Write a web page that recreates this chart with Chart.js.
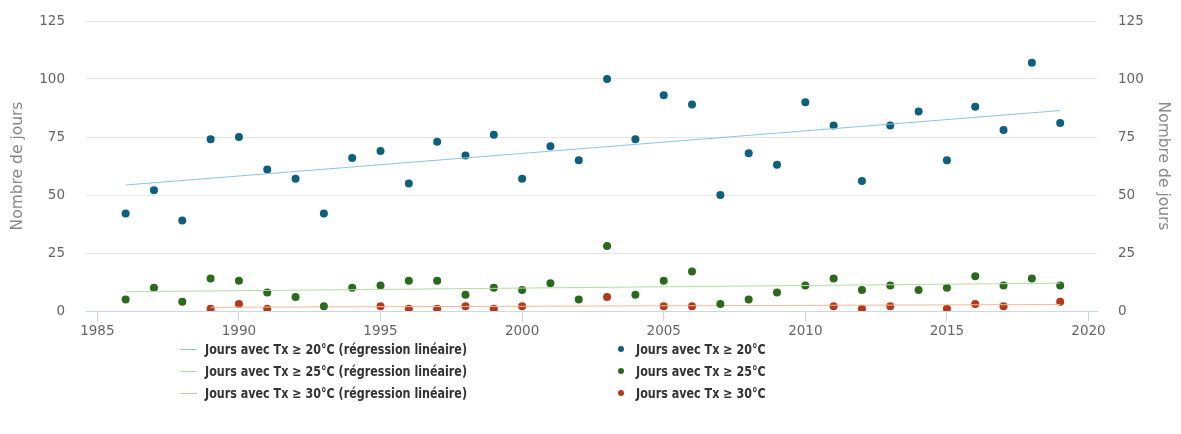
<!DOCTYPE html>
<html>
<head>
<meta charset="utf-8">
<script src="https://cdn.jsdelivr.net/npm/chart.js@4"></script>
<style>
  body { margin: 0; background: #fff; }
  #wrap { position: relative; width: 1181px; height: 434px; }
  #legend { position: absolute; left: 0; top: 339px; width: 1181px; font-family: "DejaVu Sans Condensed", "DejaVu Sans", sans-serif; font-weight: bold; font-size: 14px; color: #333; }
  .item { position: absolute; height: 20px; line-height: 20px; white-space: nowrap; }
  .txt { display: inline-block; transform: scaleX(0.885); transform-origin: 0 50%; }
  .sym { position: absolute; top: 10px; }
</style>
</head>
<body>
<div id="wrap">
  <canvas id="myChart" width="1181" height="434"></canvas>
  <div id="legend"></div>
</div>
<script>
const years = [1986, 1987, 1988, 1989, 1990, 1991, 1992, 1993, 1994, 1995,
    1996, 1997, 1998, 1999, 2000, 2001, 2002, 2003, 2004, 2005,
    2006, 2007, 2008, 2009, 2010, 2011, 2012, 2013, 2014, 2015,
    2016, 2017, 2018, 2019];
const tx20 = [42, 52, 39, 74, 75, 61, 57, 42, 66, 69,
    55, 73, 67, 76, 57, 71, 65, 100, 74, 93,
    89, 50, 68, 63, 90, 80, 56, 80, 86, 65,
    88, 78, 107, 81];
const tx25 = [5, 10, 4, 14, 13, 8, 6, 2, 10, 11,
    13, 13, 7, 10, 9, 12, 5, 28, 7, 13,
    17, 3, 5, 8, 11, 14, 9, 11, 9, 10,
    15, 11, 14, 11];
const tx30 = [null, null, null, 1, 3, 1, null, null, null, 2,
    1, 1, 2, 1, 2, null, null, 6, null, 2,
    2, null, null, null, null, 2, 1, 2, null, 1,
    3, 2, null, 4];
// regression lines: start / end
const trend20Years = [1986, 2019];
const trend20 = [54.3, 86.4];
const trend25Years = [1986, 2019];
const trend25 = [8.3, 12.0];
const trend30Years = [1989, 2019];
const trend30 = [1.6, 2.8];
const xTicks = [1985, 1990, 1995, 2000, 2005, 2010, 2015, 2020];
const yTicks = [0, 25, 50, 75, 100, 125];

const labels = [
    'Jours avec Tx ≥ 20°C (régression linéaire)',
    'Jours avec Tx ≥ 20°C',
    'Jours avec Tx ≥ 25°C (régression linéaire)',
    'Jours avec Tx ≥ 25°C',
    'Jours avec Tx ≥ 30°C (régression linéaire)',
    'Jours avec Tx ≥ 30°C'
];
const COLORS = {
    line20: '#8cc4e2', pt20: '#0d5f7c',
    line25: '#b3dca6', pt25: '#2b6a1d',
    line30: '#f5b896', pt30: '#b4391b'
};

const pts = (xs, ys) => xs.map((x, i) => ({ x: x, y: ys[i] })).filter(p => p.y !== null);

function lineSet(label, xs, ys, color) {
    return { label: label, data: pts(xs, ys), showLine: true, borderColor: color, backgroundColor: color,
        borderWidth: 1, pointRadius: 0, pointHoverRadius: 0 };
}
function dotSet(label, xs, ys, color) {
    return { label: label, data: pts(xs, ys), showLine: false, borderColor: color, backgroundColor: color,
        pointRadius: 4, pointBorderWidth: 0 };
}

const data = {
    datasets: [
        lineSet(labels[0], trend20Years, trend20, COLORS.line20),
        dotSet(labels[1], years, tx20, COLORS.pt20),
        lineSet(labels[2], trend25Years, trend25, COLORS.line25),
        dotSet(labels[3], years, tx25, COLORS.pt25),
        lineSet(labels[4], trend30Years, trend30, COLORS.line30),
        dotSet(labels[5], years, tx30, COLORS.pt30)
    ]
};

const tickFont = { family: '"DejaVu Sans", sans-serif', size: 13.5 };
const titleFont = { family: '"DejaVu Sans", sans-serif', size: 15.5 };

function yAxis(position, w) {
    return {
        type: 'linear', position: position, min: 0, max: 125,
        afterBuildTicks: axis => { axis.ticks = yTicks.map(v => ({ value: v })); },
        afterFit: axis => { axis.width = w; axis.paddingTop = 0; axis.paddingBottom = 0; },
        grid: { color: '#e6e6e6', drawTicks: false, drawOnChartArea: position === 'left' },
        border: { display: false },
        ticks: { color: '#666', font: tickFont, padding: 21 },
        title: { display: true, text: 'Nombre de jours', color: '#888', font: titleFont, padding: { top: 9, bottom: 0 } }
    };
}

const config = {
    type: 'scatter',
    data: data,
    options: {
        responsive: false,
        animation: false,
        layout: { padding: { top: 21, bottom: 93, left: 0, right: 0 } },
        plugins: { legend: { display: false }, tooltip: { enabled: false } },
        scales: {
            x: {
                type: 'linear', min: 1984.6, max: 2020.3,
                afterBuildTicks: axis => { axis.ticks = xTicks.map(v => ({ value: v })); },
                afterFit: axis => { axis.height = 30; axis.paddingLeft = 0; axis.paddingRight = 0; },
                grid: { drawOnChartArea: false, color: '#ccd6eb', tickLength: 10 },
                border: { color: '#ccd6eb' },
                ticks: { color: '#666', font: tickFont, padding: 2, maxRotation: 0, callback: v => String(v) }
            },
            y: yAxis('left', 86),
            y2: yAxis('right', 84)
        }
    }
};

const ctx = document.getElementById('myChart').getContext('2d');
const myChart = new Chart(ctx, config);

// html legend, two columns like the original
const legend = document.getElementById('legend');
myChart.data.datasets.forEach((ds, i) => {
    const col = i % 2, row = Math.floor(i / 2);
    const item = document.createElement('div');
    item.className = 'item';
    item.style.top = (row * 22) + 'px';
    item.style.left = (col === 0 ? 205 : 636) + 'px';
    const sym = document.createElement('span');
    sym.className = 'sym';
    if (col === 0) {
        sym.style.cssText = 'left:-25px;width:17px;height:1px;top:10px;background:' + ds.borderColor;
    } else {
        sym.style.cssText = 'left:-18px;width:6px;height:6px;top:7px;border-radius:3px;background:' + ds.backgroundColor;
    }
    const txt = document.createElement('span');
    txt.className = 'txt';
    txt.textContent = ds.label;
    item.appendChild(sym);
    item.appendChild(txt);
    legend.appendChild(item);
});
</script>
</body>
</html>
